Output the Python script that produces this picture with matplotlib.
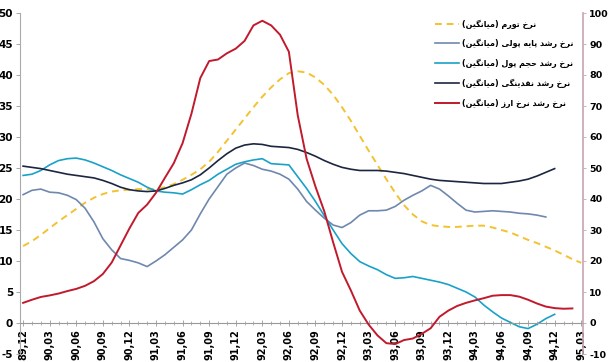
"""
Average growth rates (inflation, monetary base, M1, liquidity, FX rate), 89,12 - 95,03.
Left axis: monetary series, right axis: exchange-rate growth.
"""
import numpy as np
import matplotlib
matplotlib.use('Agg')
import matplotlib.pyplot as plt
from matplotlib.ticker import MultipleLocator

# ---------------------------------------------------------------------------
# Data (monthly, index 0 = 89,12)
# ---------------------------------------------------------------------------
tick_labels = ['89,12', '90,03', '90,06', '90,09', '90,12', '91,03', '91,06',
               '91,09', '91,12', '92,03', '92,06', '92,09', '92,12', '93,03',
               '93,06', '93,09', '93,12', '94,03', '94,06', '94,09', '94,12',
               '95,03']

inflation = [12.4, 13.2, 14.2, 15.3, 16.4, 17.4, 18.4, 19.4, 20.2, 20.8,
             21.2, 21.4, 21.5, 21.6, 21.6, 21.6, 21.9, 22.4, 23.1, 23.9,
             24.8, 26.0, 27.6, 29.4, 31.2, 33.0, 34.8, 36.5, 38.0, 39.3,
             40.3, 40.6, 40.4, 39.6, 38.4, 36.8, 34.8, 32.6, 30.2, 27.8,
             25.5, 23.2, 21.0, 19.0, 17.5, 16.4, 15.8, 15.6, 15.5, 15.5,
             15.6, 15.7, 15.7, 15.4, 15.0, 14.6, 14.0, 13.4, 12.9, 12.3,
             11.7, 11.0, 10.3, 9.7]

monetary_base = [20.7, 21.4, 21.6, 21.1, 21.0, 20.6, 19.9, 18.5, 16.3, 13.6,
                 11.8, 10.4, 10.1, 9.7, 9.1, 10.0, 11.0, 12.2, 13.4, 15.0,
                 17.6, 20.0, 22.0, 24.0, 25.0, 25.8, 25.4, 24.8, 24.5, 24.0,
                 23.2, 21.6, 19.6, 18.2, 16.9, 15.8, 15.4, 16.2, 17.4, 18.1,
                 18.1, 18.2, 18.8, 19.8, 20.6, 21.3, 22.2, 21.6, 20.5, 19.3,
                 18.2, 17.9, 18.0, 18.1, 18.0, 17.9, 17.7, 17.6, 17.4, 17.1]

money_volume = [23.8, 24.0, 24.6, 25.5, 26.2, 26.5, 26.6, 26.3, 25.8, 25.2,
                24.6, 23.9, 23.3, 22.7, 21.9, 21.3, 21.1, 21.0, 20.8, 21.5,
                22.3, 23.0, 24.0, 24.8, 25.6, 26.0, 26.3, 26.5, 25.7, 25.6,
                25.5, 23.6, 21.7, 19.6, 17.3, 15.0, 12.8, 11.2, 9.9, 9.2,
                8.6, 7.8, 7.2, 7.3, 7.5, 7.2, 6.9, 6.6, 6.2, 5.6,
                5.0, 4.2, 2.9, 1.8, 0.8, 0.1, -0.6, -0.9, -0.2, 0.7, 1.4]

liquidity = [25.3, 25.1, 24.9, 24.6, 24.3, 24.0, 23.8, 23.6, 23.4, 23.0,
             22.5, 21.9, 21.5, 21.3, 21.2, 21.3, 21.7, 22.2, 22.6, 23.1,
             23.9, 25.0, 26.2, 27.3, 28.2, 28.7, 28.9, 28.8, 28.5, 28.4,
             28.3, 28.0, 27.5, 26.9, 26.2, 25.6, 25.1, 24.8, 24.6, 24.6,
             24.6, 24.5, 24.3, 24.1, 23.8, 23.5, 23.2, 23.0, 22.9, 22.8,
             22.7, 22.6, 22.5, 22.5, 22.5, 22.7, 22.9, 23.2, 23.7, 24.3, 24.9]

fx_rate = [6.5, 7.5, 8.4, 8.9, 9.5, 10.3, 11.0, 12.0, 13.5, 15.8,
           19.5, 25.0, 30.5, 35.5, 38.2, 42.0, 46.8, 51.5, 58.0, 67.5,
           79.0, 84.5, 85.0, 87.0, 88.5, 91.0, 96.0, 97.5, 96.0, 93.0,
           87.5, 67.0, 53.0, 44.0, 36.0, 26.0, 16.5, 10.5, 4.0, -0.5,
           -4.0, -6.5, -6.8, -5.5, -5.0, -3.5, -1.7, 2.0, 4.0, 5.5,
           6.5, 7.3, 8.0, 8.8, 9.0, 9.0, 8.5, 7.5, 6.3, 5.3, 4.8, 4.6, 4.7]

legend_labels = ['نرخ تورم (میانگین)',
                 'نرخ رشد پایه پولی (میانگین)',
                 'نرخ رشد حجم پول (میانگین)',
                 'نرخ رشد نقدینگی (میانگین)',
                 'نرخ رشد نرخ ارز (میانگین)']

# ---------------------------------------------------------------------------
# Minimal Arabic/Persian shaping (matplotlib has no bidi / joining support)
# forms: isolated, final, initial, medial  (None -> right-joining only)
# ---------------------------------------------------------------------------
FORMS = {
    'ا': ('\uFE8D', '\uFE8E', None, None),
    'پ': ('\uFB56', '\uFB57', '\uFB58', '\uFB59'),
    'ت': ('\uFE95', '\uFE96', '\uFE97', '\uFE98'),
    'ج': ('\uFE9D', '\uFE9E', '\uFE9F', '\uFEA0'),
    'ح': ('\uFEA1', '\uFEA2', '\uFEA3', '\uFEA4'),
    'خ': ('\uFEA5', '\uFEA6', '\uFEA7', '\uFEA8'),
    'د': ('\uFEA9', '\uFEAA', None, None),
    'ر': ('\uFEAD', '\uFEAE', None, None),
    'ز': ('\uFEAF', '\uFEB0', None, None),
    'ش': ('\uFEB5', '\uFEB6', '\uFEB7', '\uFEB8'),
    'ق': ('\uFED5', '\uFED6', '\uFED7', '\uFED8'),
    'گ': ('\uFB92', '\uFB93', '\uFB94', '\uFB95'),
    'ل': ('\uFEDD', '\uFEDE', '\uFEDF', '\uFEE0'),
    'م': ('\uFEE1', '\uFEE2', '\uFEE3', '\uFEE4'),
    'ن': ('\uFEE5', '\uFEE6', '\uFEE7', '\uFEE8'),
    'ه': ('\uFEE9', '\uFEEA', '\uFEEB', '\uFEEC'),
    'و': ('\uFEED', '\uFEEE', None, None),
    'ی': ('\uFBFC', '\uFBFD', '\uFBFE', '\uFBFF'),
}
MIRROR = {'(': ')', ')': '('}


def shape_rtl(s):
    out = []
    for i, c in enumerate(s):
        if c not in FORMS:
            out.append(c)
            continue
        prev = s[i - 1] if i > 0 else None
        nxt = s[i + 1] if i + 1 < len(s) else None
        join_prev = prev in FORMS and FORMS[prev][2] is not None
        join_next = nxt in FORMS and FORMS[c][2] is not None
        iso, fin, ini, med = FORMS[c]
        if join_prev and join_next:
            out.append(med)
        elif join_prev:
            out.append(fin)
        elif join_next:
            out.append(ini)
        else:
            out.append(iso)
    return ''.join(MIRROR.get(c, c) for c in reversed(out))


# ---------------------------------------------------------------------------
# Plot
# ---------------------------------------------------------------------------
plt.rcParams['font.family'] = ['DejaVu Sans']
plt.rcParams['axes.unicode_minus'] = False

fig = plt.figure(figsize=(6.1, 3.62), dpi=100)
ax = fig.add_axes([20 / 610, 1 - 354 / 362, (583 - 20) / 610, (354 - 13) / 362])
ax2 = ax.twinx()

C_INF = '#F2C230'
C_BASE = '#6F88AE'
C_VOL = '#1AA1C8'
C_LIQ = '#1C2640'
C_FX = '#C01A2C'

l1, = ax.plot(np.arange(len(inflation)), inflation, color=C_INF, lw=1.4,
              ls=(0, (3.5, 2.5)))
l2, = ax.plot(np.arange(len(monetary_base)), monetary_base, color=C_BASE, lw=1.2)
l3, = ax.plot(np.arange(len(money_volume)), money_volume, color=C_VOL, lw=1.2)
l4, = ax.plot(np.arange(len(liquidity)), liquidity, color=C_LIQ, lw=1.2)
l5, = ax2.plot(np.arange(len(fx_rate)), fx_rate, color=C_FX, lw=1.4)

# spines first: moving a spine resets its ticks
ax.spines['bottom'].set_position(('data', 0))
for a in (ax, ax2):
    a.spines['top'].set_visible(False)
    a.patch.set_visible(False)
ax.spines['right'].set_visible(False)
ax2.spines['left'].set_visible(False)
ax2.spines['bottom'].set_visible(False)
ax.spines['left'].set_color('#AAAAAA')
ax.spines['bottom'].set_color('#999999')
ax.spines['left'].set_linewidth(0.8)
ax.spines['bottom'].set_linewidth(0.8)
ax2.spines['right'].set_color('#C9A3B2')
ax2.spines['right'].set_linewidth(1.2)

n_months = 3 * (len(tick_labels) - 1)
ax.set_xlim(-0.35, n_months + 0.2)
ax.set_ylim(-5, 50)
ax2.set_ylim(-10, 100)
ax.yaxis.set_major_locator(MultipleLocator(5))
ax2.yaxis.set_major_locator(MultipleLocator(10))

ax.set_xticks(np.arange(0, n_months + 1, 3))
ax.set_xticklabels(tick_labels, rotation=90, fontsize=7, fontweight='bold')
ax.xaxis.set_minor_locator(MultipleLocator(1))
ax.tick_params(axis='x', which='major', direction='inout', length=5,
               width=0.6, color='#999999', pad=2)
ax.tick_params(axis='x', which='minor', direction='inout', length=3,
               width=0.5, color='#999999')
ax.tick_params(axis='y', direction='out', length=3, width=0.6,
               color='#999999', labelsize=7.5, pad=2)
ax2.tick_params(axis='y', direction='out', length=2.5, width=0.6,
                color='#C9A3B2', labelsize=6.8, pad=2)
for lab in ax.get_yticklabels() + ax2.get_yticklabels():
    lab.set_fontweight('bold')

leg = ax2.legend([l1, l2, l3, l4, l5], [shape_rtl(s) for s in legend_labels],
                 loc='upper left', bbox_to_anchor=(428 / 610, 1 - 12 / 362),
                 bbox_transform=fig.transFigure, frameon=False,
                 prop={'size': 5.8, 'weight': 'bold'}, handlelength=3.0,
                 handletextpad=0.3, labelspacing=1.3)

fig.savefig('out.png', dpi=100)
